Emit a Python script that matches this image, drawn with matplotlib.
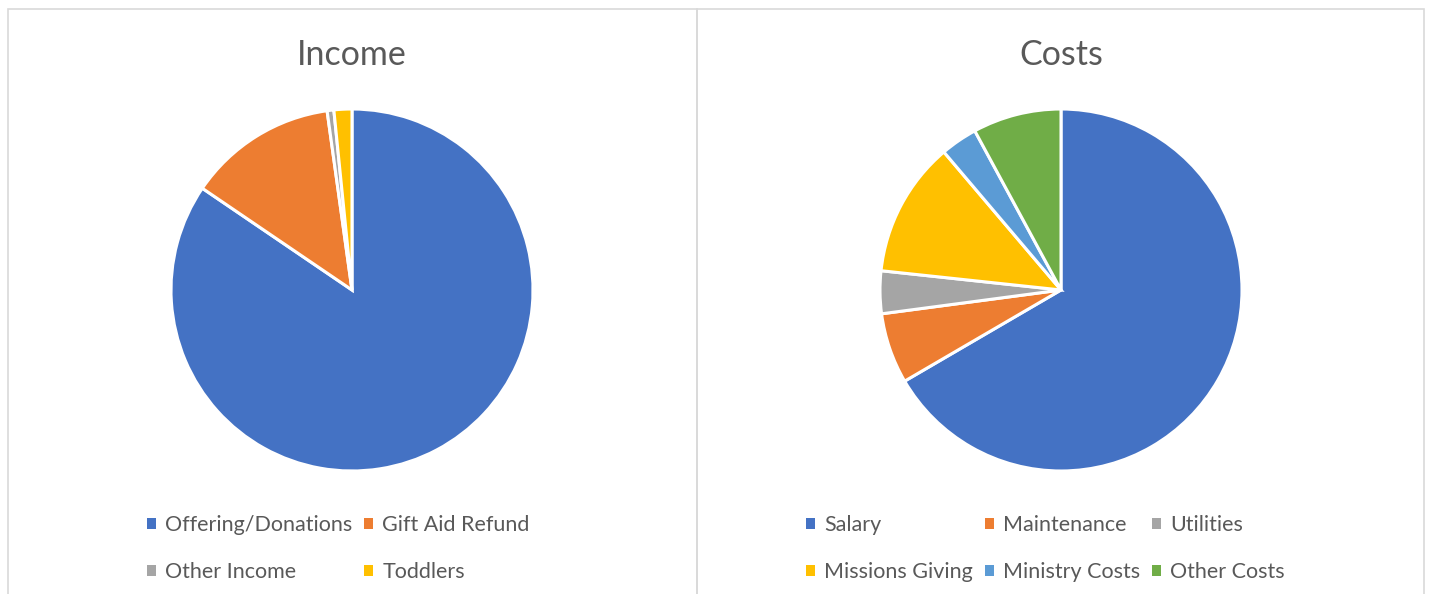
import matplotlib.pyplot as plt
from matplotlib.patches import Rectangle

plt.rcParams['font.family'] = ['Lato', 'DejaVu Sans']

# data (percent of total)
income_labels = ['Offering/Donations', 'Gift Aid Refund', 'Other Income', 'Toddlers']
income_values = [84.5, 13.3, 0.6, 1.6]
income_colors = ['#4472C4', '#ED7D31', '#A5A5A5', '#FFC000']

cost_labels = ['Salary', 'Maintenance', 'Utilities', 'Missions Giving',
               'Ministry Costs', 'Other Costs']
cost_values = [66.6, 6.3, 3.8, 12.1, 3.3, 7.9]
cost_colors = ['#4472C4', '#ED7D31', '#A5A5A5', '#FFC000', '#5B9BD5', '#70AD47']

W, H = 1429, 594
txt = '#595959'
fig = plt.figure(figsize=(W / 100, H / 100), dpi=100)


def px_axes(cx, cy, r):
    return fig.add_axes([(cx - r) / W, (H - cy - r) / H, 2 * r / W, 2 * r / H])


def draw_pie(cx, cy, labels, values, colors, title, legx, ncol):
    ax = px_axes(cx, cy, 181)
    wedges, _ = ax.pie(values, colors=colors, startangle=90, counterclock=False,
                       radius=1, wedgeprops=dict(edgecolor='white', linewidth=2.2))
    ax.set_xlim(-1, 1)
    ax.set_ylim(-1, 1)
    ax.set_aspect('equal')
    ax.axis('off')
    fig.text(cx / W, 1 - 65 / H, title, ha='center', va='baseline',
             fontsize=24.5, color=txt)
    # legend is filled column by column, reorder so rows read like the original
    nrow = 2
    order = [r * ncol + c for c in range(ncol) for r in range(nrow)]
    leg = fig.legend([wedges[i] for i in order], [labels[i] for i in order],
                     loc='upper left', bbox_to_anchor=(legx / W, 1 - 515 / H),
                     ncol=ncol, frameon=False, fontsize=15.5, borderpad=0,
                     borderaxespad=0, handlelength=0.42, handleheight=0.42,
                     handletextpad=0.42, columnspacing=0.55, labelspacing=1.25)
    for t in leg.get_texts():
        t.set_color(txt)
    for h in leg.legend_handles:
        h.set_edgecolor('none')


draw_pie(352, 290, income_labels, income_values, income_colors, 'Income', 147, 2)
draw_pie(1061, 290, cost_labels, cost_values, cost_colors, 'Costs', 806, 3)

# panel borders
for x0, x1 in [(8, 697), (697, 1424)]:
    fig.add_artist(Rectangle((x0 / W, -0.05), (x1 - x0) / W, 1.05 - 9 / H,
                             transform=fig.transFigure, fill=False,
                             edgecolor='#D9D9D9', linewidth=1.2))

fig.savefig('out.png', dpi=100)
